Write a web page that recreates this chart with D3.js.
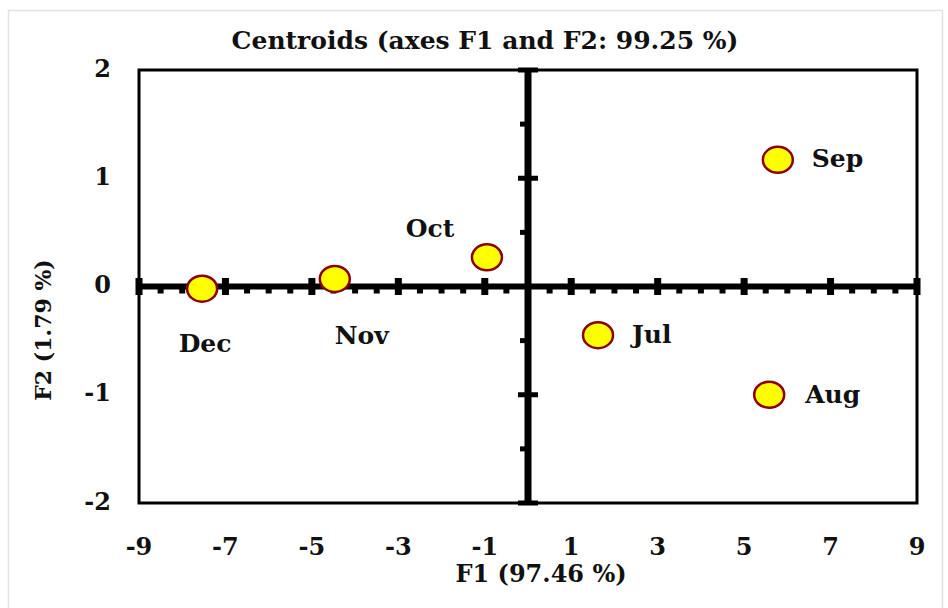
<!DOCTYPE html>
<html>
<head>
<meta charset="utf-8">
<script src="https://cdn.jsdelivr.net/npm/d3@7"></script>
<style>
  html, body { margin: 0; padding: 0; background: #fff; }
  svg { display: block; }
  text { font-family: "DejaVu Serif", "Liberation Serif", serif; font-weight: bold; fill: #111; }
</style>
</head>
<body>
<svg id="chart" width="948" height="608"></svg>
<script>
// Centroid coordinates on the first two factorial axes
const months = ["Jul", "Aug", "Sep", "Oct", "Nov", "Dec"];
const f1 = [1.62, 5.58, 5.78, -0.95, -4.47, -7.54];
const f2 = [-0.45, -1.00, 1.17, 0.27, 0.07, -0.02];

const xTicks = [-9, -7, -5, -3, -1, 1, 3, 5, 7, 9];
const yTicks = [-2, -1, 0, 1, 2];

const titleText = "Centroids (axes F1 and F2: 99.25 %)";
const xTitle = "F1 (97.46 %)";
const yTitle = "F2 (1.79 %)";

// label placement relative to each marker
const labelOffset = {
  Jul: { dx: 34, dy: 1, anchor: "start" },
  Aug: { dx: 36, dy: 2, anchor: "start" },
  Sep: { dx: 34, dy: 1, anchor: "start" },
  Oct: { dx: -57, dy: -27, anchor: "middle" },
  Nov: { dx: 27, dy: 59, anchor: "middle" },
  Dec: { dx: 3, dy: 57, anchor: "middle" }
};

const svg = d3.select("#chart");
const plotLeft = 139, plotRight = 917, plotTop = 70, plotBottom = 503;

const x = d3.scaleLinear().domain([-9, 9]).range([plotLeft, plotRight]);
const y = d3.scaleLinear().domain([-2, 2]).range([plotBottom, plotTop]);

// faint outer frame
svg.append("rect")
  .attr("x", 8.5).attr("y", 10.5).attr("width", 934).attr("height", 610)
  .attr("fill", "none").attr("stroke", "#e2e2e2").attr("stroke-width", 1.5);

// title
svg.append("text")
  .attr("x", 485).attr("y", 42)
  .attr("text-anchor", "middle").attr("dominant-baseline", "middle")
  .style("font-size", "25px")
  .text(titleText);

// plot frame
svg.append("rect")
  .attr("x", plotLeft).attr("y", plotTop)
  .attr("width", plotRight - plotLeft).attr("height", plotBottom - plotTop)
  .attr("fill", "none").attr("stroke", "#000").attr("stroke-width", 3);

const x0 = x(0), y0 = y(0);
const g = svg.append("g");

// horizontal zero axis
g.append("line")
  .attr("x1", plotLeft).attr("x2", plotRight).attr("y1", y0).attr("y2", y0)
  .attr("stroke", "#000").attr("stroke-width", 6);

const xMinor = d3.range(-9, 9.001, 0.5).filter(v => !xTicks.includes(v));
g.selectAll(".xminor").data(xMinor).join("rect")
  .attr("x", d => x(d) - 3).attr("y", y0)
  .attr("width", 6).attr("height", 7)
  .attr("fill", "#000");
g.selectAll(".xmajor").data(xTicks).join("rect")
  .attr("x", d => x(d) - 3.5).attr("y", y0 - 8.5)
  .attr("width", 7).attr("height", 17)
  .attr("fill", "#000");

// vertical zero axis
g.append("line")
  .attr("x1", x0).attr("x2", x0).attr("y1", plotTop).attr("y2", plotBottom)
  .attr("stroke", "#000").attr("stroke-width", 7);

const yMinor = d3.range(-2, 2.001, 0.5).filter(v => !yTicks.includes(v));
g.selectAll(".yminor").data(yMinor).join("rect")
  .attr("x", x0 - 8).attr("y", d => y(d) - 2.5)
  .attr("width", 8).attr("height", 5)
  .attr("fill", "#000");
g.selectAll(".ymajor").data(yTicks).join("rect")
  .attr("x", x0 - 10).attr("y", d => y(d) - 2.5)
  .attr("width", 20).attr("height", 5)
  .attr("fill", "#000");

// tick labels
svg.selectAll(".xlab").data(xTicks).join("text")
  .attr("x", d => x(d)).attr("y", 548)
  .attr("text-anchor", "middle").attr("dominant-baseline", "middle")
  .style("font-size", "24px")
  .text(d => d);

svg.selectAll(".ylab").data(yTicks).join("text")
  .attr("x", 111).attr("y", d => y(d))
  .attr("text-anchor", "end").attr("dominant-baseline", "middle")
  .style("font-size", "24px")
  .text(d => d);

// axis titles
svg.append("text")
  .attr("x", 541).attr("y", 575)
  .attr("text-anchor", "middle").attr("dominant-baseline", "middle")
  .style("font-size", "24px")
  .text(xTitle);

svg.append("text")
  .attr("transform", "translate(45,330) rotate(-90)")
  .attr("text-anchor", "middle").attr("dominant-baseline", "middle")
  .style("font-size", "22px")
  .text(yTitle);

// centroid markers
const pts = months.map((m, i) => ({ m, fx: f1[i], fy: f2[i] }));

svg.selectAll(".pt").data(pts).join("ellipse")
  .attr("cx", d => x(d.fx)).attr("cy", d => y(d.fy))
  .attr("rx", 15).attr("ry", 13)
  .attr("fill", "#ffff00").attr("stroke", "#8b0000").attr("stroke-width", 2.5);

svg.selectAll(".lab").data(pts).join("text")
  .attr("x", d => x(d.fx) + labelOffset[d.m].dx)
  .attr("y", d => y(d.fy) + labelOffset[d.m].dy)
  .attr("text-anchor", d => labelOffset[d.m].anchor)
  .attr("dominant-baseline", "middle")
  .style("font-size", "25px")
  .text(d => d.m);
</script>
</body>
</html>
